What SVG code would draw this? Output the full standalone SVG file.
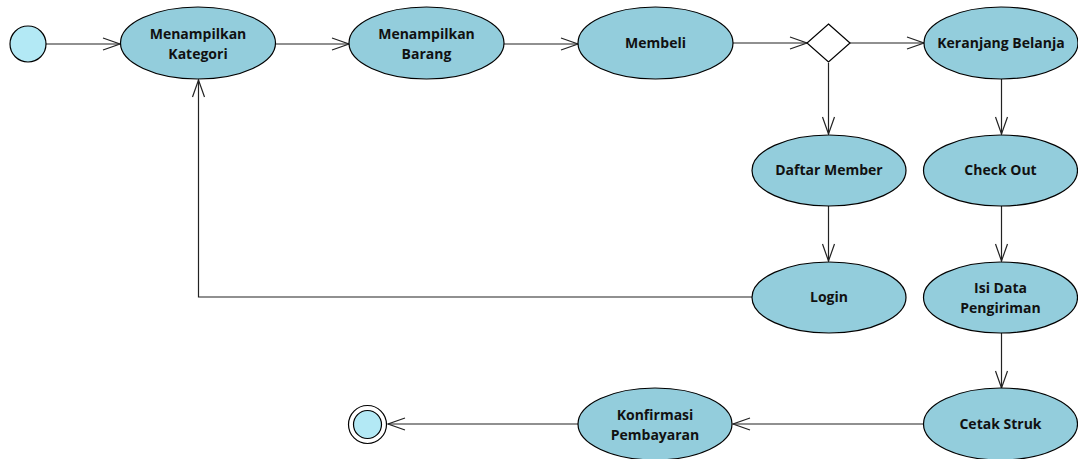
<svg xmlns="http://www.w3.org/2000/svg" width="1078" height="459" viewBox="0 0 1078 459">
  <style>
    .act { fill: #93CDDC; stroke: #000; stroke-width: 1.2; }
    .lbl { font-family: "Open Sans", "Liberation Sans", sans-serif; font-weight: 700; font-size: 14px; fill: #111; text-anchor: middle; }
    .flow { fill: none; stroke: #222; stroke-width: 1.2; }
    .pt { fill: #B3E9F5; stroke: #000; stroke-width: 1.2; }
  </style>
  <defs>
    <marker id="open" markerUnits="userSpaceOnUse" markerWidth="20" markerHeight="16" viewBox="-19 -8 20 16" refX="0" refY="0" orient="auto" overflow="visible">
      <path d="M-17,-6 L0,0 L-17,6" fill="none" stroke="#222" stroke-width="1.2"/>
    </marker>
  </defs>
  <rect width="1078" height="459" fill="#fff"/>

  <g id="connectors">
    <line class="flow" x1="46" y1="44" x2="120" y2="44" marker-end="url(#open)"/>
    <line class="flow" x1="276" y1="44" x2="349" y2="44" marker-end="url(#open)"/>
    <line class="flow" x1="504" y1="44" x2="578" y2="44" marker-end="url(#open)"/>
    <line class="flow" x1="733" y1="43" x2="807" y2="43" marker-end="url(#open)"/>
    <line class="flow" x1="850" y1="43" x2="924" y2="43" marker-end="url(#open)"/>
    <line class="flow" x1="828.5" y1="63" x2="828.5" y2="134" marker-end="url(#open)"/>
    <line class="flow" x1="1001.5" y1="79" x2="1001.5" y2="134" marker-end="url(#open)"/>
    <line class="flow" x1="828.5" y1="206" x2="828.5" y2="261" marker-end="url(#open)"/>
    <line class="flow" x1="1001.5" y1="206" x2="1001.5" y2="261" marker-end="url(#open)"/>
    <line class="flow" x1="1001.5" y1="333" x2="1001.5" y2="388" marker-end="url(#open)"/>
    <line class="flow" x1="924" y1="424" x2="733" y2="424" marker-end="url(#open)"/>
    <line class="flow" x1="578" y1="424" x2="388" y2="424" marker-end="url(#open)"/>
    <polyline class="flow" points="752,297 198.5,297 198.5,80" marker-end="url(#open)"/>
  </g>

  <g id="start">
    <circle class="pt" cx="28" cy="44" r="18"/>
  </g>

  <g id="menampilkan-kategori">
    <ellipse class="act" cx="198" cy="43" rx="77.5" ry="36"/>
    <text class="lbl" x="198" y="39">Menampilkan</text>
    <text class="lbl" x="198" y="59">Kategori</text>
  </g>

  <g id="menampilkan-barang">
    <ellipse class="act" cx="426.5" cy="43" rx="77.5" ry="36"/>
    <text class="lbl" x="426.5" y="39">Menampilkan</text>
    <text class="lbl" x="426.5" y="59">Barang</text>
  </g>

  <g id="membeli">
    <ellipse class="act" cx="655.5" cy="43" rx="77.5" ry="36"/>
    <text class="lbl" x="655.5" y="48">Membeli</text>
  </g>

  <g id="decision">
    <polygon points="828.5,24 850,43 828.5,62 807,43" fill="#fff" stroke="#000" stroke-width="1.2"/>
  </g>

  <g id="keranjang-belanja">
    <ellipse class="act" cx="1001" cy="43" rx="77" ry="36"/>
    <text class="lbl" x="1001" y="48">Keranjang Belanja</text>
  </g>

  <g id="daftar-member">
    <ellipse class="act" cx="829" cy="170.5" rx="77" ry="35.5"/>
    <text class="lbl" x="829" y="175">Daftar Member</text>
  </g>

  <g id="check-out">
    <ellipse class="act" cx="1000.5" cy="170.5" rx="77" ry="35.5"/>
    <text class="lbl" x="1000.5" y="175">Check Out</text>
  </g>

  <g id="login">
    <ellipse class="act" cx="829" cy="297.5" rx="77" ry="35.5"/>
    <text class="lbl" x="829" y="302">Login</text>
  </g>

  <g id="isi-data-pengiriman">
    <ellipse class="act" cx="1000.5" cy="297.5" rx="77" ry="35.5"/>
    <text class="lbl" x="1000.5" y="293">Isi Data</text>
    <text class="lbl" x="1000.5" y="313">Pengiriman</text>
  </g>

  <g id="cetak-struk">
    <ellipse class="act" cx="1000.5" cy="424" rx="77" ry="36"/>
    <text class="lbl" x="1000.5" y="429">Cetak Struk</text>
  </g>

  <g id="konfirmasi-pembayaran">
    <ellipse class="act" cx="655" cy="424" rx="77" ry="36"/>
    <text class="lbl" x="655" y="420">Konfirmasi</text>
    <text class="lbl" x="655" y="440">Pembayaran</text>
  </g>

  <g id="end">
    <circle cx="367.5" cy="424.5" r="19" fill="#fff" stroke="#000" stroke-width="1.2"/>
    <circle class="pt" cx="367.5" cy="424.5" r="14"/>
  </g>
</svg>
